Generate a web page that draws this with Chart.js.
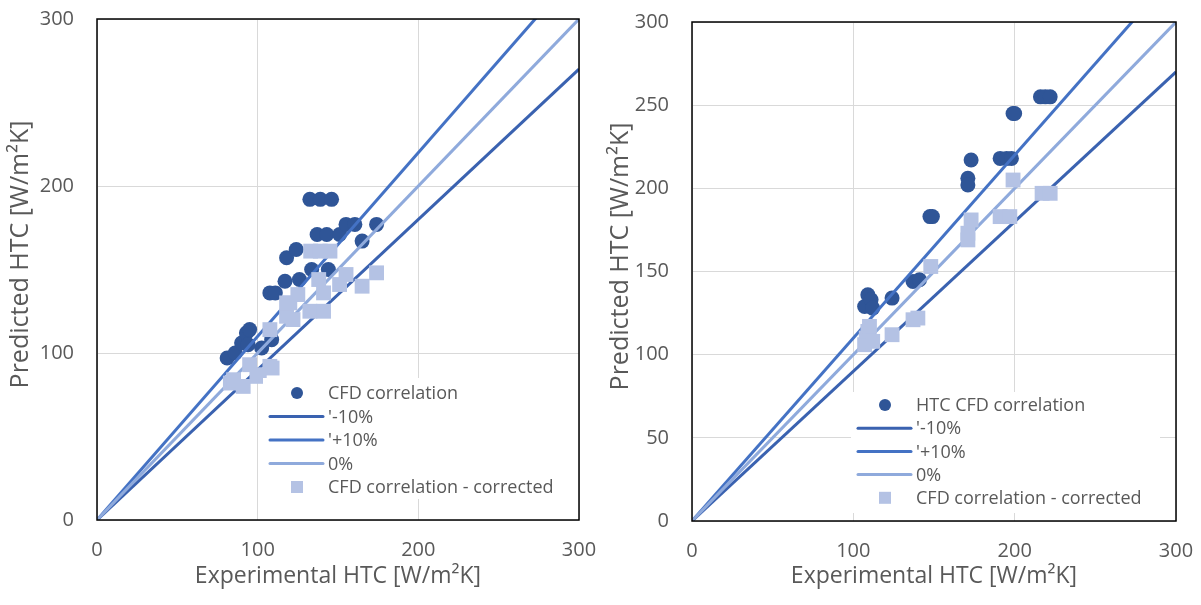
<!DOCTYPE html>
<html>
<head>
<meta charset="utf-8">
<script src="https://cdn.jsdelivr.net/npm/chart.js@4"></script>
<style>
  html, body { margin: 0; padding: 0; background: #fff; }
  #wrap { position: relative; width: 1201px; height: 605px; }
  #left { position: absolute; left: 0; top: 0; }
  #right { position: absolute; left: 600px; top: 0; }
</style>
</head>
<body>
<div id="wrap">
  <canvas id="left" width="600" height="605"></canvas>
  <canvas id="right" width="601" height="605"></canvas>
</div>
<script>
// [experimental, predicted] pairs
const leftCfd = [
  [81, 97], [86, 100], [90, 106], [93, 112], [95, 114], [94, 105], [102.5, 103],
  [108.7, 108], [107.6, 136], [111, 136], [117, 143], [118, 157], [124, 162],
  [126, 144], [133.6, 150], [144, 150], [132.5, 192], [139, 192], [146, 192],
  [137, 171], [143, 171], [151, 171], [155, 177], [160.5, 177], [174, 177], [165, 167]
];
const leftCorrected = [
  [83, 82], [85, 84], [91, 80], [95, 93], [99.5, 86], [101, 87], [107.6, 92],
  [109, 91], [107.6, 114], [122, 120], [118, 122], [118, 130], [120, 130],
  [125, 135], [132.5, 125], [141, 125], [141, 136], [138, 144], [133, 161],
  [139, 161], [145, 161], [151, 141], [155, 147], [165, 140], [174, 148]
];
const rightCfd = [
  [107, 129], [109, 136], [111, 133], [112, 128], [124, 134], [137, 144],
  [141, 145], [147.5, 183], [149, 183], [171, 206], [171, 202], [173, 217],
  [191, 218], [195, 218], [198, 218], [199, 245], [200, 245], [216, 255],
  [219, 255], [222, 255]
];
const rightCorrected = [
  [107, 106], [108, 110], [109, 114], [110, 117], [112, 108], [124, 112],
  [137, 121], [140, 122], [148, 153], [171, 169], [171, 173], [173, 181],
  [191, 183], [197, 183], [199, 205], [217, 197], [222, 197]
];
// reference lines: y = factor * x
const lineMinus = [[0, 0], [300, 270]];
const linePlus = [[0, 0], [300, 330]];
const lineZero = [[0, 0], [300, 300]];

const leftTicksY = 100;
const rightTicksY = 50;

const textGrey = "#595959";
const fontFamily = '"Open Sans", sans-serif';

const toXY = (arr) => arr.map((p) => ({ x: p[0], y: p[1] }));

const boxLegend = {
  id: "boxLegend",
  afterDatasetsDraw(chart, args, opts) {
    const { ctx, chartArea: a } = chart;
    ctx.save();
    ctx.strokeStyle = "#000";
    ctx.lineWidth = 1.5;
    ctx.strokeRect(a.left, a.top, a.right - a.left, a.bottom - a.top);

    // y axis title, sits a little above the middle like in Excel
    ctx.save();
    ctx.translate(21, (a.top + a.bottom) / 2 - 15);
    ctx.rotate(-Math.PI / 2);
    ctx.font = "25px " + fontFamily;
    ctx.fillStyle = textGrey;
    ctx.textAlign = "center";
    ctx.textBaseline = "middle";
    ctx.fillText("Predicted HTC [W/m²K]", 0, 0);
    ctx.restore();

    const x0 = a.right - opts.right - opts.width;
    const y0 = a.bottom - opts.bottom - opts.height;
    ctx.fillStyle = "#fff";
    ctx.fillRect(x0, y0, opts.width, opts.height);
    ctx.font = "18px " + fontFamily;
    ctx.textBaseline = "middle";
    chart.data.datasets.forEach((ds, i) => {
      const cy = y0 + opts.firstRow + i * opts.rowGap;
      const cx = x0 + 34;
      if (ds.showLine) {
        ctx.strokeStyle = ds.borderColor;
        ctx.lineWidth = 3;
        ctx.lineCap = "round";
        ctx.beginPath();
        ctx.moveTo(x0 + 7, cy);
        ctx.lineTo(x0 + 60, cy);
        ctx.stroke();
      } else if (ds.pointStyle === "rect") {
        ctx.fillStyle = ds.backgroundColor;
        ctx.fillRect(cx - 6, cy - 6, 12, 12);
      } else {
        ctx.fillStyle = ds.backgroundColor;
        ctx.beginPath();
        ctx.arc(cx, cy, 6, 0, Math.PI * 2);
        ctx.fill();
      }
      ctx.fillStyle = textGrey;
      ctx.fillText(ds.label, x0 + 65, cy + 1);
    });
    ctx.restore();
  },
};

function makeDatasets(cfdLabel, cfd, corrected) {
  return [
    {
      label: cfdLabel, data: toXY(cfd), order: 4,
      backgroundColor: "#2F5597", borderColor: "#2F5597",
      pointRadius: 7.5, pointHoverRadius: 7.5, borderWidth: 0,
    },
    {
      label: "'-10%", data: toXY(lineMinus), order: 3, showLine: true,
      borderColor: "#3A62B0", backgroundColor: "#3A62B0", borderWidth: 3, pointRadius: 0,
    },
    {
      label: "'+10%", data: toXY(linePlus), order: 2, showLine: true,
      borderColor: "#4472C4", backgroundColor: "#4472C4", borderWidth: 3, pointRadius: 0,
    },
    {
      label: "0%", data: toXY(lineZero), order: 1, showLine: true,
      borderColor: "#8FAADC", backgroundColor: "#8FAADC", borderWidth: 3, pointRadius: 0,
    },
    {
      label: "CFD correlation - corrected", data: toXY(corrected), order: 0,
      pointStyle: "rect", backgroundColor: "#B4C2E4", borderColor: "#B4C2E4",
      pointRadius: 10.5, pointHoverRadius: 10.5, borderWidth: 0,
    },
  ];
}

function makeChart(id, datasets, yStep, fit, legendBox) {
  return new Chart(document.getElementById(id), {
    type: "scatter",
    data: { datasets },
    plugins: [boxLegend],
    options: {
      responsive: false,
      animation: false,
      layout: { autoPadding: false, padding: { left: 0, right: fit.right, top: fit.top, bottom: 0 } },
      plugins: {
        legend: { display: false },
        tooltip: { enabled: false },
        boxLegend: legendBox,
      },
      scales: {
        x: {
          type: "linear", min: 0, max: 300,
          ticks: { stepSize: 100, color: textGrey, padding: 0, font: { size: 20, family: fontFamily } },
          grid: { color: "#D9D9D9", drawTicks: true, tickLength: 18, tickColor: "rgba(0,0,0,0)" },
          border: { display: false },
          title: {
            display: true, text: "Experimental HTC [W/m²K]", color: textGrey,
            font: { size: 23, family: fontFamily }, padding: { top: 0, bottom: 15 },
          },
          afterFit: (s) => { s.height = fit.xHeight; },
        },
        y: {
          type: "linear", min: 0, max: 300,
          ticks: { stepSize: yStep, color: textGrey, padding: 0, font: { size: 20, family: fontFamily } },
          grid: { color: "#D9D9D9", drawTicks: true, tickLength: 23, tickColor: "rgba(0,0,0,0)" },
          border: { display: false },
          afterFit: (s) => { s.width = fit.yWidth; },
        },
      },
    },
  });
}

makeChart(
  "left",
  makeDatasets("CFD correlation", leftCfd, leftCorrected),
  leftTicksY,
  { right: 21, top: 19, xHeight: 85, yWidth: 97 },
  { right: 9, bottom: 21, width: 307, height: 121, firstRow: 15, rowGap: 23.5 }
);

makeChart(
  "right",
  makeDatasets("HTC CFD correlation", rightCfd, rightCorrected),
  rightTicksY,
  { right: 25, top: 22, xHeight: 84, yWidth: 92 },
  { right: 16, bottom: 8, width: 309, height: 121, firstRow: 13, rowGap: 23.2 }
);
</script>
</body>
</html>
